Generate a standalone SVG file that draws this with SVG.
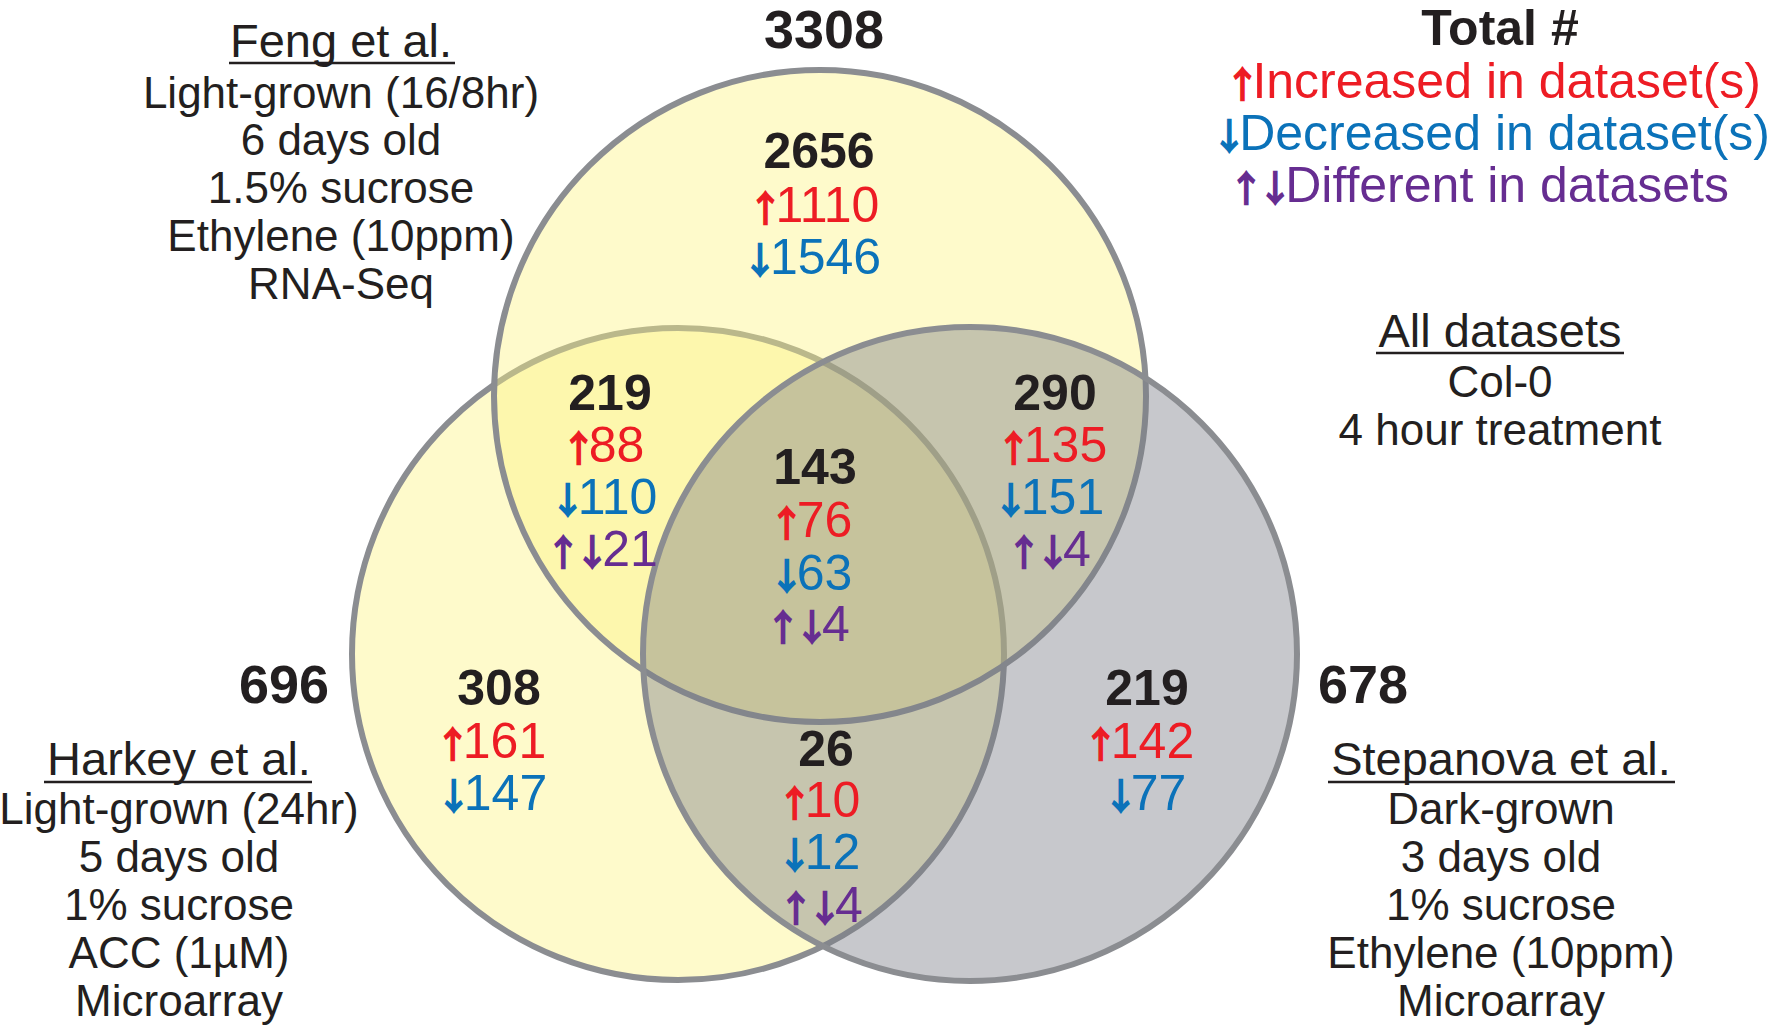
<svg xmlns="http://www.w3.org/2000/svg" width="1772" height="1028" viewBox="0 0 1772 1028">
<style>
text { font-family: "Liberation Sans", Arial, Helvetica, sans-serif; text-anchor: middle; }
.title { font-size: 47px; fill: #231f20; }
.body { font-size: 44px; fill: #231f20; }
.tot { font-size: 54px; font-weight: bold; fill: #231f20; }
.num { font-size: 50px; font-weight: bold; fill: #231f20; }
.up { font-size: 50px; fill: #ed1c24; }
.dn { font-size: 50px; fill: #0b72b9; }
.df { font-size: 50px; fill: #662d91; }
.ar { font-family: "Noto Sans CJK JP", "Noto Sans CJK SC", sans-serif; font-size: 38px; font-weight: 900; letter-spacing: -9px; }
.end { text-anchor: end; }
.ul { stroke: #231f20; stroke-width: 2.5; }
.ring { stroke: #8b8d91; stroke-width: 6; }
</style>
<rect width="1772" height="1028" fill="#ffffff"/>

<g id="set-harkey"><circle class="ring" cx="678" cy="654" r="326" fill="#fefacb"/></g>
<g id="set-feng"><circle class="ring" cx="820" cy="396" r="326" fill="#fcf383" fill-opacity="0.42"/></g>
<g id="set-stepanova"><circle class="ring" cx="970" cy="654" r="327" fill="#797c86" fill-opacity="0.42"/></g>

<g id="total-feng"><text class="tot" x="824" y="48">3308</text></g>
<g id="total-harkey"><text class="tot" x="284" y="703">696</text></g>
<g id="total-stepanova"><text class="tot" x="1363" y="703">678</text></g>

<g id="region-feng-only">
<text class="num" x="819" y="168">2656</text>
<text class="up" x="813" y="222"><tspan class="ar">↑</tspan>1110</text>
<text class="dn" x="811" y="274"><tspan class="ar">↓</tspan>1546</text>
</g>
<g id="region-feng-harkey">
<text class="num" x="610" y="410">219</text>
<text class="up" x="602" y="462"><tspan class="ar">↑</tspan>88</text>
<text class="dn" x="603" y="514"><tspan class="ar">↓</tspan>110</text>
<text class="df" x="601" y="566"><tspan class="ar">↑↓</tspan>21</text>
</g>
<g id="region-all">
<text class="num" x="815" y="484">143</text>
<text class="up" x="810" y="537"><tspan class="ar">↑</tspan>76</text>
<text class="dn" x="810" y="590"><tspan class="ar">↓</tspan>63</text>
<text class="df" x="807" y="641"><tspan class="ar">↑↓</tspan>4</text>
</g>
<g id="region-feng-stepanova">
<text class="num" x="1055" y="410">290</text>
<text class="up" x="1051" y="462"><tspan class="ar">↑</tspan>135</text>
<text class="dn" x="1048" y="514"><tspan class="ar">↓</tspan>151</text>
<text class="df" x="1048" y="566"><tspan class="ar">↑↓</tspan>4</text>
</g>
<g id="region-harkey-only">
<text class="num" x="499" y="705">308</text>
<text class="up" x="490" y="758"><tspan class="ar">↑</tspan>161</text>
<text class="dn" x="491" y="810"><tspan class="ar">↓</tspan>147</text>
</g>
<g id="region-stepanova-only">
<text class="num" x="1147" y="705">219</text>
<text class="up" x="1138" y="758"><tspan class="ar">↑</tspan>142</text>
<text class="dn" x="1144" y="810"><tspan class="ar">↓</tspan>77</text>
</g>
<g id="region-harkey-stepanova">
<text class="num" x="826" y="766">26</text>
<text class="up" x="818" y="817"><tspan class="ar">↑</tspan>10</text>
<text class="dn" x="818" y="869"><tspan class="ar">↓</tspan>12</text>
<text class="df" x="820" y="922"><tspan class="ar">↑↓</tspan>4</text>
</g>

<g id="info-feng">
<text class="title" x="341" y="57">Feng et al.</text>
<line class="ul" x1="229" y1="63" x2="455" y2="63"/>
<text class="body" x="341" y="108">Light-grown (16/8hr)</text>
<text class="body" x="341" y="155">6 days old</text>
<text class="body" x="341" y="203">1.5% sucrose</text>
<text class="body" x="341" y="251">Ethylene (10ppm)</text>
<text class="body" x="341" y="299">RNA-Seq</text>
</g>
<g id="info-harkey">
<text class="title" x="179" y="775">Harkey et al.</text>
<line class="ul" x1="44" y1="782" x2="312" y2="782"/>
<text class="body" x="179" y="824">Light-grown (24hr)</text>
<text class="body" x="179" y="872">5 days old</text>
<text class="body" x="179" y="920">1% sucrose</text>
<text class="body" x="179" y="968">ACC (1µM)</text>
<text class="body" x="179" y="1016">Microarray</text>
</g>
<g id="info-stepanova">
<text class="title" x="1501" y="775">Stepanova et al.</text>
<line class="ul" x1="1328" y1="782" x2="1675" y2="782"/>
<text class="body" x="1501" y="824">Dark-grown</text>
<text class="body" x="1501" y="872">3 days old</text>
<text class="body" x="1501" y="920">1% sucrose</text>
<text class="body" x="1501" y="968">Ethylene (10ppm)</text>
<text class="body" x="1501" y="1016">Microarray</text>
</g>
<g id="info-all">
<text class="title" x="1500" y="347">All datasets</text>
<line class="ul" x1="1376" y1="353" x2="1624" y2="353"/>
<text class="body" x="1500" y="397">Col-0</text>
<text class="body" x="1500" y="445">4 hour treatment</text>
</g>
<g id="legend">
<text class="num" x="1500" y="45">Total #</text>
<text class="up end" x="1761" y="98"><tspan class="ar">↑</tspan>Increased in dataset(s)</text>
<text class="dn end" x="1770" y="150"><tspan class="ar">↓</tspan>Decreased in dataset(s)</text>
<text class="df end" x="1729" y="202"><tspan class="ar">↑↓</tspan>Different in datasets</text>
</g>
</svg>
